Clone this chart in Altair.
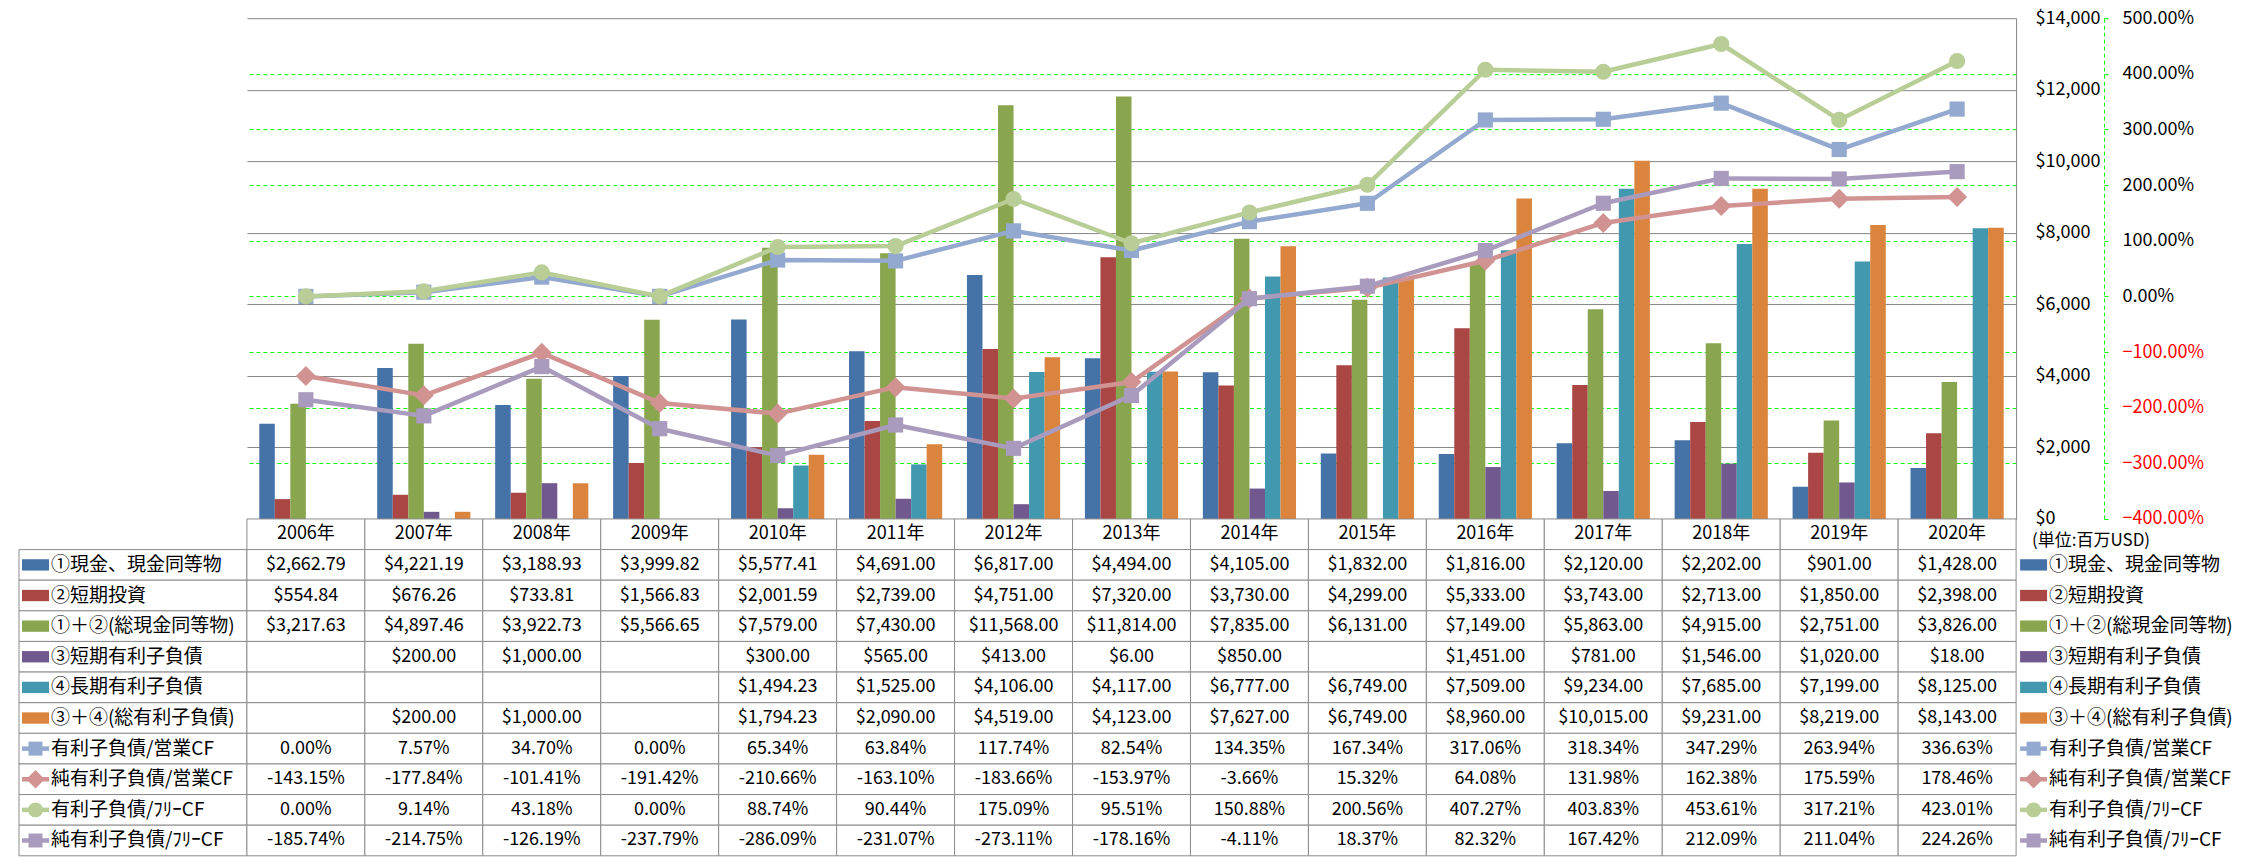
import altair as alt
import pandas as pd

years = ["2006年", "2007年", "2008年", "2009年", "2010年", "2011年", "2012年", "2013年",
         "2014年", "2015年", "2016年", "2017年", "2018年", "2019年", "2020年"]

bar_series = ["①現金、現金同等物", "②短期投資", "①＋②(総現金同等物)",
              "③短期有利子負債", "④長期有利子負債", "③＋④(総有利子負債)"]
line_series = ["有利子負債/営業CF", "純有利子負債/営業CF", "有利子負債/ﾌﾘｰCF", "純有利子負債/ﾌﾘｰCF"]

cash = [2662.79, 4221.19, 3188.93, 3999.82, 5577.41, 4691.00, 6817.00, 4494.00,
        4105.00, 1832.00, 1816.00, 2120.00, 2202.00, 901.00, 1428.00]
short_inv = [554.84, 676.26, 733.81, 1566.83, 2001.59, 2739.00, 4751.00, 7320.00,
             3730.00, 4299.00, 5333.00, 3743.00, 2713.00, 1850.00, 2398.00]
total_cash = [3217.63, 4897.46, 3922.73, 5566.65, 7579.00, 7430.00, 11568.00, 11814.00,
              7835.00, 6131.00, 7149.00, 5863.00, 4915.00, 2751.00, 3826.00]
short_debt = [None, 200.00, 1000.00, None, 300.00, 565.00, 413.00, 6.00,
              850.00, None, 1451.00, 781.00, 1546.00, 1020.00, 18.00]
long_debt = [None, None, None, None, 1494.23, 1525.00, 4106.00, 4117.00,
             6777.00, 6749.00, 7509.00, 9234.00, 7685.00, 7199.00, 8125.00]
total_debt = [None, 200.00, 1000.00, None, 1794.23, 2090.00, 4519.00, 4123.00,
              7627.00, 6749.00, 8960.00, 10015.00, 9231.00, 8219.00, 8143.00]

debt_ocf = [0.00, 7.57, 34.70, 0.00, 65.34, 63.84, 117.74, 82.54,
            134.35, 167.34, 317.06, 318.34, 347.29, 263.94, 336.63]
net_debt_ocf = [-143.15, -177.84, -101.41, -191.42, -210.66, -163.10, -183.66, -153.97,
                -3.66, 15.32, 64.08, 131.98, 162.38, 175.59, 178.46]
debt_fcf = [0.00, 9.14, 43.18, 0.00, 88.74, 90.44, 175.09, 95.51,
            150.88, 200.56, 407.27, 403.83, 453.61, 317.21, 423.01]
net_debt_fcf = [-185.74, -214.75, -126.19, -237.79, -286.09, -231.07, -273.11, -178.16,
                -4.11, 18.37, 82.32, 167.42, 212.09, 211.04, 224.26]

bar_values = [cash, short_inv, total_cash, short_debt, long_debt, total_debt]
line_values = [debt_ocf, net_debt_ocf, debt_fcf, net_debt_fcf]

bar_colors = ["#4572A7", "#AA4643", "#89A54E", "#71588F", "#4198AF", "#DB843D"]
line_colors = ["#93A9CF", "#D19392", "#B9CD96", "#A99BBD"]
line_shapes = ["square", "diamond", "circle", "square"]
line_sizes = [230, 400, 260, 230]

FONT = "Noto Sans CJK JP"
GRID_GRAY = "#868686"
CELL_GRAY = "#8C8C8C"
GREEN = "#00FF00"

PLOT_W = 1770
PLOT_H = 501
LABEL_W = 228
LEGEND_W = 222
TABLE_H = 337

# ---------- plot ----------
bar_rows = []
for s, vals in zip(bar_series, bar_values):
    for y, v in zip(years, vals):
        if v is not None:
            bar_rows.append({"year": y, "series": s, "value": v})
bar_df = pd.DataFrame(bar_rows)

x_plot = alt.X("year:N", sort=years,
               scale=alt.Scale(domain=years, paddingInner=0.21, paddingOuter=0.105),
               axis=None)

bars = alt.Chart(bar_df).mark_bar().encode(
    x=x_plot,
    xOffset=alt.XOffset("series:N", sort=bar_series,
                        scale=alt.Scale(domain=bar_series, paddingInner=0, paddingOuter=0)),
    y=alt.Y("value:Q",
            scale=alt.Scale(domain=[0, 14000], nice=False, zero=True),
            axis=alt.Axis(orient="right", values=list(range(0, 14001, 2000)),
                          format="$,.0f", title=None,
                          grid=True, gridColor=GRID_GRAY, gridWidth=1,
                          domain=True, domainColor=GRID_GRAY, domainWidth=1,
                          ticks=False, labelPadding=19,
                          labelFont=FONT, labelFontSize=18, labelColor="black")),
    color=alt.Color("series:N", scale=alt.Scale(domain=bar_series, range=bar_colors), legend=None),
)

line_y = alt.Y("pct:Q",
               scale=alt.Scale(domain=[-400, 500], nice=False, zero=False),
               axis=alt.Axis(orient="right", offset=88, values=list(range(-400, 501, 100)),
                             labelExpr="format(datum.value, '.2f') + '%'", title=None,
                             grid=True,
                             gridColor=alt.condition("datum.value >= 500 || datum.value <= -400",
                                                     alt.value("transparent"),
                                                     alt.value(GREEN)),
                             gridDash=[4, 3], gridWidth=1,
                             domain=True, domainColor=GREEN, domainDash=[4, 3], domainWidth=1,
                             ticks=True, tickColor=GREEN, tickSize=4, tickWidth=1,
                             labelPadding=14, labelFont=FONT, labelFontSize=18,
                             labelColor=alt.condition("datum.value < 0",
                                                      alt.value("#FF0000"),
                                                      alt.value("black"))))

line_layers = []
for s, vals, c, shp, sz in zip(line_series, line_values, line_colors, line_shapes, line_sizes):
    df = pd.DataFrame({"year": years, "pct": vals})
    base = alt.Chart(df).encode(x=x_plot, y=line_y)
    line_layers.append(base.mark_line(color=c, strokeWidth=4.5, strokeJoin="round", strokeCap="round"))
    line_layers.append(base.mark_point(color=c, fill=c, filled=True, opacity=1, shape=shp, size=sz))

lines = alt.layer(*line_layers)
plot = alt.layer(bars, lines).resolve_scale(y="independent").properties(width=PLOT_W, height=PLOT_H)

spacer_df = pd.DataFrame({"a": [0]})
spacer_left = alt.Chart(spacer_df).mark_point(opacity=0).encode(
    x=alt.value(0), y=alt.value(0)).properties(width=LABEL_W, height=PLOT_H)
spacer_right = alt.Chart(spacer_df).mark_point(opacity=0).encode(
    x=alt.value(0), y=alt.value(0)).properties(width=LEGEND_W, height=PLOT_H)

# ---------- table ----------
row_keys = [f"r{i:02d}" for i in range(11)]

cell_rows = []
for j, y in enumerate(years):
    cell_rows.append({"row": row_keys[0], "year": y, "label": y})
    for i, vals in enumerate(bar_values):
        v = vals[j]
        cell_rows.append({"row": row_keys[1 + i], "year": y,
                          "label": "" if v is None else f"${v:,.2f}"})
    for i, vals in enumerate(line_values):
        v = vals[j]
        cell_rows.append({"row": row_keys[7 + i], "year": y, "label": f"{v:.2f}%"})
cell_df = pd.DataFrame(cell_rows)

y_table = alt.Y("row:N", sort=row_keys,
                scale=alt.Scale(domain=row_keys, paddingInner=0, paddingOuter=0), axis=None)

grid_base = alt.Chart(cell_df).encode(
    x=alt.X("year:N", sort=years, scale=alt.Scale(domain=years, paddingInner=0, paddingOuter=0), axis=None),
    y=y_table)
grid = alt.layer(
    grid_base.mark_rect(fill="white", stroke=CELL_GRAY, strokeWidth=1),
    grid_base.mark_text(font=FONT, fontSize=18, color="black").encode(text="label:N"),
).properties(width=PLOT_W, height=TABLE_H)

key_rows = []
for i, (s, c) in enumerate(zip(bar_series, bar_colors)):
    key_rows.append({"row": row_keys[1 + i], "name": s, "color": c, "kind": "bar",
                     "shape": "M-1,-0.42H1V0.42H-1Z", "size": 729})
for i, (s, c, shp, sz) in enumerate(zip(line_series, line_colors, line_shapes, line_sizes)):
    key_rows.append({"row": row_keys[7 + i], "name": s, "color": c, "kind": "line",
                     "shape": shp, "size": sz * 0.85})
key_df = pd.DataFrame(key_rows)


def key_column(width, x0, with_cells):
    base = alt.Chart(key_df).encode(y=y_table)
    layers = []
    if with_cells:
        layers.append(base.mark_rect(fill="white", stroke=CELL_GRAY, strokeWidth=1).encode(
            x=alt.value(0), x2=alt.value(width)))
    layers.append(base.transform_filter("datum.kind == 'line'").mark_rule(strokeWidth=4.5).encode(
        x=alt.value(x0), x2=alt.value(x0 + 27), color=alt.Color("color:N", scale=None)))
    layers.append(base.mark_point(filled=True, opacity=1).encode(
        x=alt.value(x0 + 13.5),
        color=alt.Color("color:N", scale=None),
        shape=alt.Shape("shape:N", scale=None),
        size=alt.Size("size:Q", scale=None)))
    layers.append(base.mark_text(font=FONT, fontSize=19, align="left", color="black").encode(
        x=alt.value(x0 + 29), text="name:N"))
    return layers


labels = alt.layer(*key_column(LABEL_W, 3, True)).properties(width=LABEL_W, height=TABLE_H)

unit_df = pd.DataFrame({"row": [row_keys[0]], "name": ["(単位:百万USD)"]})
unit_text = alt.Chart(unit_df).mark_text(font=FONT, fontSize=17, align="left", color="black",
                                         dy=7).encode(
    y=y_table, x=alt.value(16), text="name:N")
legend = alt.layer(*key_column(LEGEND_W, 4, False), unit_text).properties(width=LEGEND_W, height=TABLE_H)

chart = alt.concat(
    spacer_left, plot, spacer_right,
    labels, grid, legend,
    columns=3, spacing=0, bounds="flush",
).properties(
    padding={"left": 8, "top": 1, "right": 0, "bottom": 0},
    background="white",
).configure_view(stroke=None)

chart.save("out.html", embed_options={"renderer": "svg", "actions": False})
